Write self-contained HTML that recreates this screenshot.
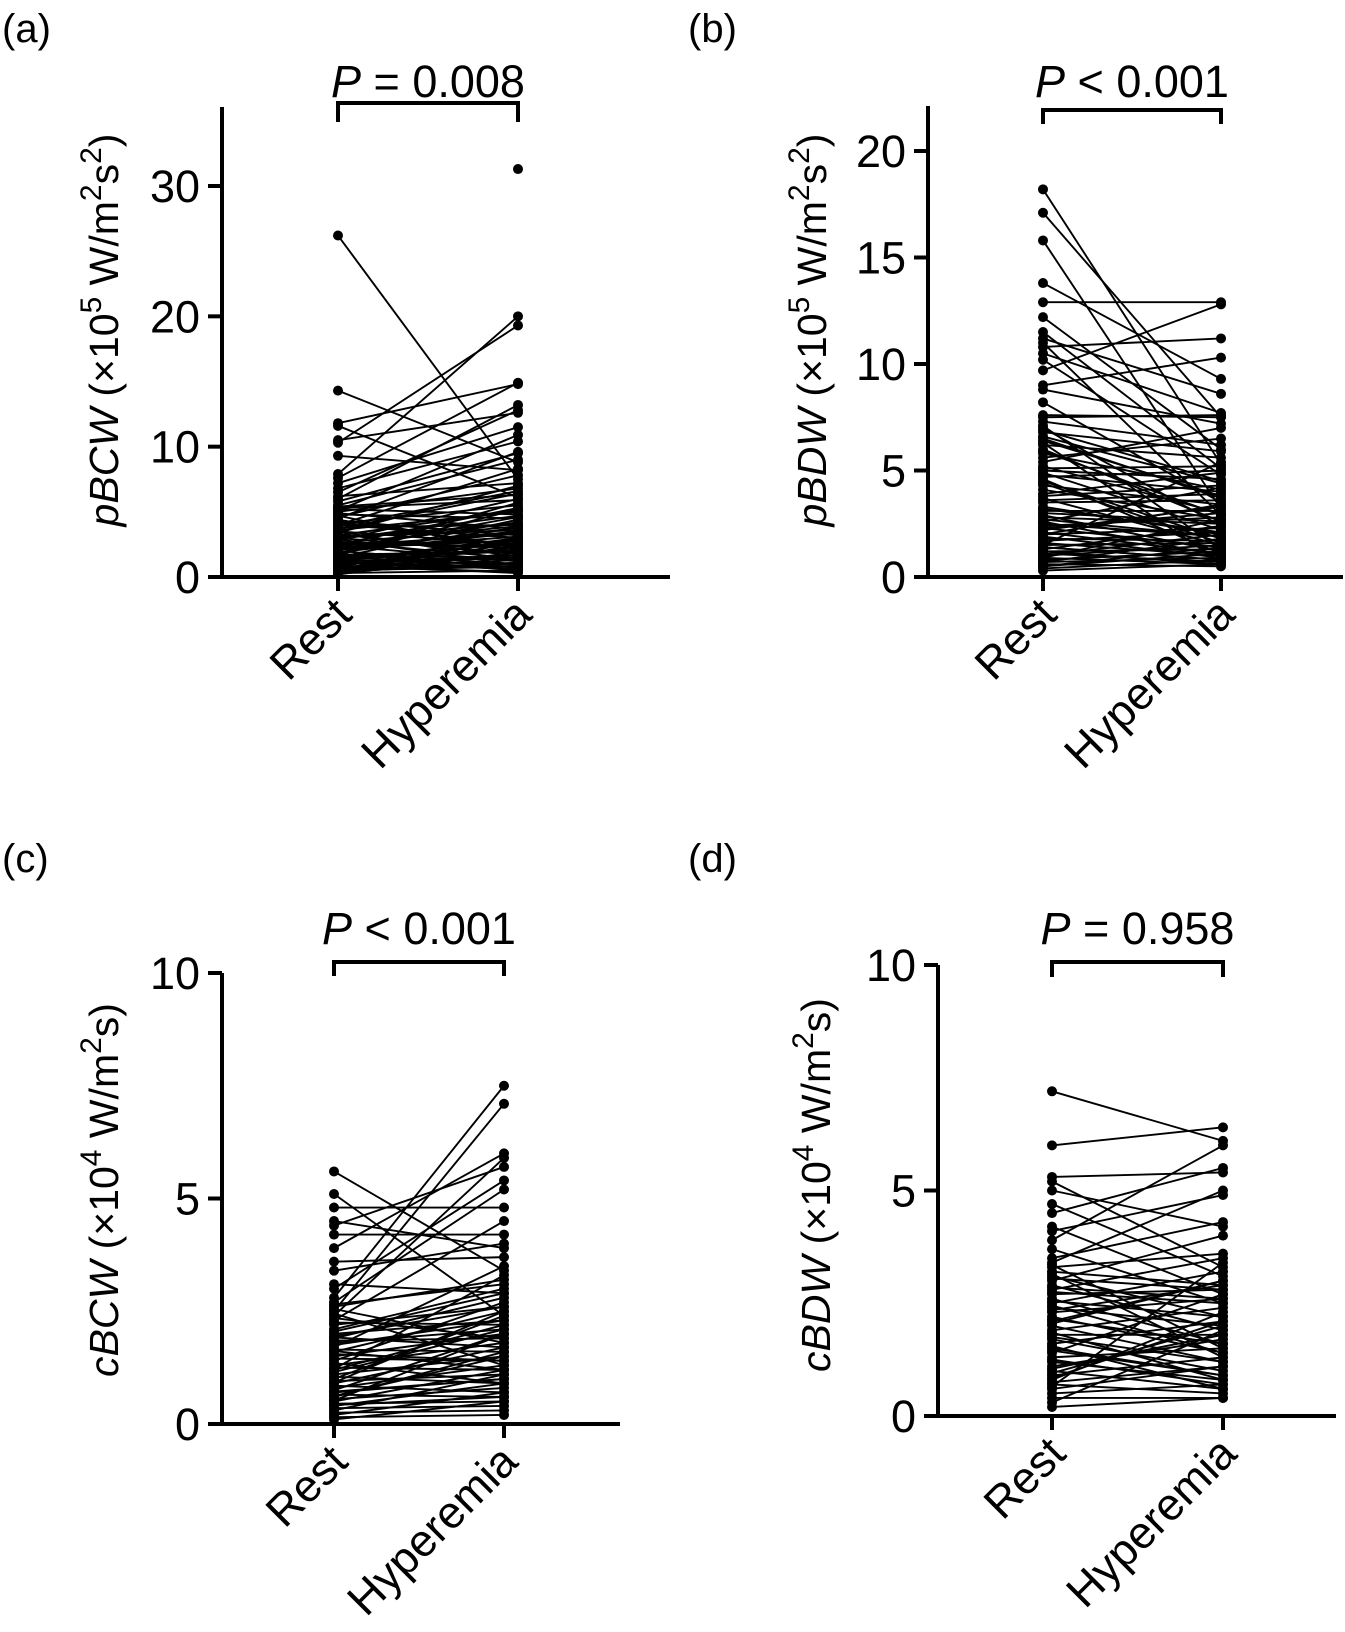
<!DOCTYPE html>
<html><head><meta charset="utf-8"><style>
html,body{margin:0;padding:0;background:#fff;}
svg{display:block;font-family:"Liberation Sans",Arial,sans-serif;}
</style></head><body>
<svg id="fig" width="1345" height="1632" viewBox="0 0 1345 1632" xmlns="http://www.w3.org/2000/svg"></svg>
<script>
// ---- data ----
const categories = ["Rest", "Hyperemia"];
const restA = [26.2,14.3,11.8,11.6,10.5,10.3,9.3,7.9,7.6,7.2,6.8,6.5,6.2,6.0,5.8,5.5,5.3,5.1,5.0,4.8,4.6,4.5,4.3,4.1,4.0,3.8,3.7,3.5,3.4,3.2,3.1,3.0,2.9,2.8,2.7,2.6,2.5,2.4,2.3,2.2,2.1,2.0,1.9,1.8,1.7,1.6,1.5,1.4,1.3,1.2,1.1,1.0,0.9,0.8,0.7,0.6,0.5,0.4,0.3,0.2,5.2,4.9,4.2,3.9,3.3,2.6,2.2,1.8,1.5,1.2,0.9,0.6,null,4.4,3.6,2.7,1.9,1.1,0.5,5.4,4.7,3.0,2.4,1.6,0.8,3.5,2.1,1.3,0.4,4.0,2.9,1.7,0.7,3.1,2.5];
const hypA = [7.5,8.8,14.8,6.1,12.6,19.3,8.2,20.0,14.9,11.5,10.4,12.8,7.2,13.2,9.5,9.0,5.9,10.9,6.8,4.5,7.8,9.6,3.2,5.5,8.3,4.0,6.4,2.5,7.0,5.1,3.6,1.8,4.7,6.0,2.2,3.9,5.3,1.2,4.2,2.8,3.1,0.9,3.4,5.7,2.0,1.5,4.4,2.6,1.0,3.0,0.6,1.7,2.3,0.4,1.3,2.9,0.8,1.1,0.5,1.9,4.8,3.7,2.4,6.6,1.6,2.7,3.5,0.7,2.1,1.4,0.3,1.0,31.3,2.2,5.0,1.4,3.8,0.8,2.6,6.3,1.9,4.1,3.3,0.5,2.8,1.2,4.6,2.0,1.1,3.0,0.9,5.2,1.7,3.6,2.4];
const restB = [18.2,17.1,15.8,13.8,12.9,12.2,11.5,11.2,11.0,10.8,10.5,10.2,9.7,9.0,8.8,8.2,7.6,7.5,7.3,7.0,6.8,6.6,6.4,6.2,6.0,5.8,5.6,5.2,5.0,4.9,4.7,4.5,4.3,4.1,3.9,3.7,3.5,3.3,3.1,2.9,2.8,2.6,2.5,2.4,2.3,2.2,2.1,2.0,1.9,1.8,1.7,1.6,1.5,1.4,1.3,1.2,1.1,1.0,0.9,0.8,0.7,0.6,0.5,0.4,0.3,6.3,5.4,4.8,3.6,3.0,2.7,1.5,1.0,7.1,6.5,5.9,5.1,4.4,3.8,3.2,2.6,2.0,1.4,0.9,0.5,6.9,4.6,2.3,1.2,0.7];
const hypB = [5.3,7.5,3.2,9.3,12.9,6.0,5.1,8.6,2.9,11.2,7.7,4.8,12.8,10.3,7.2,3.5,7.5,7.6,6.2,2.4,5.9,4.4,3.8,5.6,2.6,4.1,6.5,3.0,4.6,2.2,5.0,1.8,3.4,2.7,4.9,1.5,3.6,2.0,3.1,1.2,2.5,4.2,1.9,2.8,1.4,3.3,1.1,2.3,0.9,1.7,2.1,1.0,1.6,0.8,2.4,1.3,0.7,1.5,0.6,1.2,0.9,0.5,1.1,0.8,0.6,0.7,7.0,4.0,3.9,2.6,1.9,5.4,2.0,1.3,3.7,2.9,5.2,1.6,4.3,2.1,1.0,3.4,0.8,2.7,1.4,4.5,1.1,3.0,0.6,1.8];
const restC = [5.6,5.1,4.8,4.5,4.4,4.2,3.9,3.6,3.4,3.1,3.0,2.8,2.7,2.6,2.5,2.4,2.3,2.2,2.1,2.0,1.9,1.85,1.8,1.7,1.65,1.6,1.5,1.45,1.4,1.3,1.25,1.2,1.1,1.05,1.0,0.95,0.9,0.85,0.8,0.75,0.7,0.65,0.6,0.55,0.5,0.45,0.4,0.35,0.3,0.25,0.2,0.15,0.1,2.35,1.95,1.55,1.15,0.72,2.65,1.75,2.55,2.05,1.35,0.62,2.25,1.62,0.92,0.42,1.92,1.22,2.45,0.52];
const hypC = [3.4,2.4,4.8,3.9,5.7,4.2,6.0,3.7,4.0,2.9,5.4,7.5,5.2,3.2,7.1,5.9,4.5,2.6,3.0,2.3,2.8,1.9,2.1,3.5,1.6,2.5,2.0,1.4,2.7,1.8,1.2,2.2,1.5,0.9,2.4,1.1,1.7,0.7,1.3,2.0,1.0,0.6,1.6,0.8,1.2,0.5,0.9,0.4,1.1,0.3,0.7,0.2,0.5,1.9,2.6,1.4,2.1,1.0,3.1,2.3,1.8,2.9,0.9,1.5,2.2,1.2,2.5,0.6,1.7,3.3,1.3,2.0];
const restD = [7.2,6.0,5.3,5.2,5.0,4.7,4.5,4.2,4.1,3.9,3.7,3.5,3.4,3.3,3.2,3.1,3.0,2.9,2.8,2.7,2.6,2.5,2.4,2.3,2.2,2.1,2.0,1.9,1.8,1.7,1.6,1.5,1.4,1.3,1.2,1.1,1.0,0.9,0.8,0.7,0.6,0.5,0.4,0.3,0.2,2.85,2.15,1.45,0.95,1.75,3.05,2.45,1.25,0.65,2.55,3.35,2.75,1.85,1.05,0.75,2.35,1.55,0.85,3.15,2.05];
const hypD = [6.1,6.4,5.4,3.3,4.2,3.1,5.5,2.7,4.9,6.0,2.5,4.3,5.0,3.6,2.9,2.2,4.0,1.9,3.5,2.8,1.6,3.2,2.0,2.6,1.4,3.0,1.2,2.4,1.8,1.0,2.1,0.9,2.7,1.5,0.8,1.7,0.6,1.3,2.3,0.5,1.1,0.7,0.4,1.9,0.4,2.6,1.6,0.9,2.0,1.2,2.8,1.4,0.7,3.4,2.2,1.5,2.5,0.8,1.8,1.1,2.9,0.6,2.1,1.3,3.0];
const ticksA = [0,10,20,30];
const ticksB = [0,5,10,15,20];
const ticksC = [0,5,10];
const ticksD = [0,5,10];
const pLabels = ["= 0.008","< 0.001","< 0.001","= 0.958"];

const NS = "http://www.w3.org/2000/svg";
const svg = document.getElementById("fig");
function mk(tag, attrs, parent){
  const e = document.createElementNS(NS, tag);
  for (const k in attrs) e.setAttribute(k, attrs[k]);
  (parent||svg).appendChild(e);
  return e;
}

const panels = [
  {id:"a", rest:restA, hyp:hypA, ticks:ticksA, ymax:30, ax:222, y0:577, yTop:107, yAtMax:186, xEnd:670, xR:338, xH:518, brTop:103, brBot:122, pBase:97,
   lab:{x:2,y:42}, title:{x:118,y:330}, tname:"pBCW", mult:"5", unitSup:"2", unitTail:"s", tailSup:"2", p:pLabels[0]},
  {id:"b", rest:restB, hyp:hypB, ticks:ticksB, ymax:20, ax:928, y0:577, yTop:106, yAtMax:151, xEnd:1343, xR:1043, xH:1221, brTop:110, brBot:124, pBase:97,
   lab:{x:688,y:42}, title:{x:826,y:330}, tname:"pBDW", mult:"5", unitSup:"2", unitTail:"s", tailSup:"2", p:pLabels[1]},
  {id:"c", rest:restC, hyp:hypC, ticks:ticksC, ymax:10, ax:222, y0:1424, yTop:973, yAtMax:973, xEnd:620, xR:334, xH:504, brTop:962, brBot:976, pBase:944,
   lab:{x:2,y:872}, title:{x:118,y:1190}, tname:"cBCW", mult:"4", unitSup:"2", unitTail:"s", tailSup:"", p:pLabels[2]},
  {id:"d", rest:restD, hyp:hypD, ticks:ticksD, ymax:10, ax:938, y0:1416, yTop:965, yAtMax:965, xEnd:1336, xR:1052, xH:1223, brTop:962, brBot:977, pBase:944,
   lab:{x:688,y:872}, title:{x:830,y:1185}, tname:"cBDW", mult:"4", unitSup:"2", unitTail:"s", tailSup:"", p:pLabels[3]}
];

panels.forEach(P => {
  const g = mk("g", {});
  
  
  const yScale = v => P.y0 - (v / P.ymax) * (P.y0 - P.yAtMax);
  const xScale = i => i === 0 ? P.xR : P.xH;

  const pl = mk("text", {x:P.lab.x, y:P.lab.y, "font-size":40, fill:"#000"}, g);
  pl.textContent = "(" + P.id + ")";
  
  

  const ya = mk("line", {x1:P.ax, y1:P.yTop, x2:P.ax, y2:P.y0+2, stroke:"#000","stroke-width":4}, g);
  
  
  const xa = mk("line", {x1:P.ax-14, y1:P.y0, x2:P.xEnd, y2:P.y0, stroke:"#000","stroke-width":4}, g);
  
  

  P.ticks.forEach(t => {
    const y = yScale(t);
    const tk = mk("line", {x1:P.ax-14, y1:y, x2:P.ax, y2:y, stroke:"#000","stroke-width":4}, g);
    
    
    const tl = mk("text", {x:P.ax-22, y:y+16, "font-size":45, "text-anchor":"end", fill:"#000"}, g);
    tl.textContent = String(t);
    
    
  });

  categories.forEach((c, i) => {
    const x = xScale(i);
    const tk = mk("line", {x1:x, y1:P.y0, x2:x, y2:P.y0+14, stroke:"#000","stroke-width":4}, g);
    
    
    const tl = mk("text", {"font-size":45, "text-anchor":"end", fill:"#000",
      transform:"translate(" + (x+16) + "," + (P.y0+40) + ") rotate(-45)"}, g);
    tl.textContent = c;
    
    
  });

  const tt = mk("text", {"font-size":41, "text-anchor":"middle", fill:"#000",
    transform:"translate(" + P.title.x + "," + P.title.y + ") rotate(-90)"}, g);
  
  
  const ts1 = mk("tspan", {"font-style":"italic"}, tt); ts1.textContent = P.tname;
  const ts2 = mk("tspan", {}, tt); ts2.textContent = " (\u00d710";
  const ts3 = mk("tspan", {"font-size":30, dy:-17}, tt); ts3.textContent = P.mult;
  const ts4 = mk("tspan", {dy:17}, tt); ts4.textContent = " W/m";
  const ts5 = mk("tspan", {"font-size":30, dy:-17}, tt); ts5.textContent = P.unitSup;
  const ts6 = mk("tspan", {dy:17}, tt); ts6.textContent = P.unitTail;
  if (P.tailSup) {
    const ts7 = mk("tspan", {"font-size":30, dy:-17}, tt); ts7.textContent = P.tailSup;
    const ts8 = mk("tspan", {dy:17}, tt); ts8.textContent = ")";
  } else {
    const ts8 = mk("tspan", {}, tt); ts8.textContent = ")";
  }

  const br = mk("path", {d:"M" + P.xR + "," + P.brBot + " V" + P.brTop + " H" + P.xH + " V" + P.brBot,
    fill:"none", stroke:"#000", "stroke-width":4}, g);
  
  
  const pt = mk("text", {x:(P.xR+P.xH)/2, y:P.pBase, "font-size":45, "text-anchor":"middle", fill:"#000"}, g);
  
  
  const pi = mk("tspan", {"font-style":"italic"}, pt); pi.textContent = "P";
  const pv = mk("tspan", {}, pt); pv.textContent = " " + P.p;

  const n = Math.min(P.rest.length, P.hyp.length);
  const lg = mk("g", {stroke:"#000", "stroke-width":1.9}, g);
  for (let k = 0; k < n; k++) {
    if (P.rest[k] == null || P.hyp[k] == null) continue;
    const ln = mk("line", {x1:xScale(0), y1:yScale(P.rest[k]), x2:xScale(1), y2:yScale(P.hyp[k])}, lg);
    
    
  }
  for (let k = 0; k < n; k++) {
    if (P.rest[k] != null) {
      const c1 = mk("circle", {cx:xScale(0), cy:yScale(P.rest[k]), r:5, fill:"#000"}, g);
      
      
    }
    if (P.hyp[k] != null) {
      const c2 = mk("circle", {cx:xScale(1), cy:yScale(P.hyp[k]), r:5, fill:"#000"}, g);
      
      
    }
  }
});
</script>
</body></html>
